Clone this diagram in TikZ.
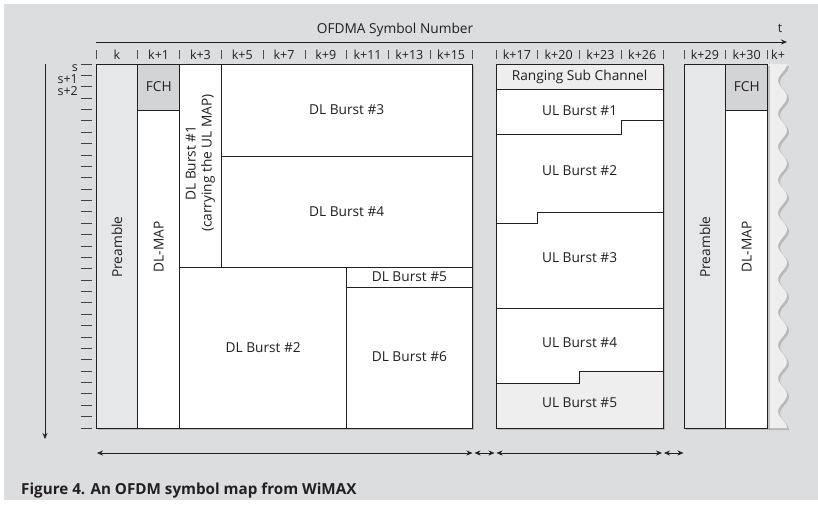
\documentclass[tikz,border=0pt]{standalone}
\usepackage{fontspec}
\setmainfont{Open Sans}
\usetikzlibrary{arrows.meta,shadows}
\definecolor{ink}{HTML}{231F20}
\definecolor{panel}{HTML}{DCDDDE}
\definecolor{prefill}{HTML}{E6E7E8}
\definecolor{fchfill}{HTML}{D3D4D5}
\definecolor{lightfill}{HTML}{EEEEEF}
\begin{document}
\begin{tikzpicture}[x=1pt, y=-1pt,
    every node/.style={font=\fontsize{13.7}{16}\selectfont, text=ink, inner sep=0pt},
    colnum/.style={font=\fontsize{12.5}{14}\selectfont},
    softshadow/.style={drop shadow={shadow xshift=2pt, shadow yshift=-2pt, opacity=0.3, fill=black!60}},
    blk/.style={draw=ink, line width=0.8pt},
    part/.style={ink, line width=0.8pt},
    colmark/.style={ink!80, line width=0.6pt},
    rowmark/.style={ink!85, line width=1pt},
    span/.style={ink, line width=0.6pt, {Stealth[length=6pt,width=5pt]}-{Stealth[length=6pt,width=5pt]}}]
    \useasboundingbox (0,0) rectangle (818,509);
    % 背景
    \fill[white] (0,0) rectangle (818,509);
    \fill[panel] (4,4) rectangle (818,500);

    % 时间轴
    \node (title) at (395,30) {OFDMA Symbol Number};
    \coordinate (tstart) at (96,42);
    \coordinate (tend) at (787,42);
    \draw[ink, line width=0.8pt, -{Stealth[length=6pt,width=5pt]}] (tstart) -- (tend);
    \node[colnum] (tlabel) at (780,28) {t};

    % 符号编号
    \foreach \t [count=\i] in {k,k+1,k+3,k+5,k+7,k+9,k+11,k+13,k+15}
        \node[colnum] (dlcol\i) at ({96+(\i-0.5)*41.78},55) {\t};
    \foreach \i in {0,...,9}
        \draw[colmark] ({96+\i*41.78},50) -- ++(0,9);
    \foreach \t [count=\i] in {k+17,k+20,k+23,k+26}
        \node[colnum] (ulcol\i) at ({496+(\i-0.5)*41.78},55) {\t};
    \foreach \i in {0,...,4}
        \draw[colmark] ({496+\i*41.78},50) -- ++(0,9);
    \foreach \t [count=\i] in {k+29,k+30}
        \node[colnum] (nxcol\i) at ({684+(\i-0.5)*41.78},55) {\t};
    \foreach \i in {0,...,2}
        \draw[colmark] ({684+\i*41.78},50) -- ++(0,9);
    \node[colnum, anchor=west] (nxcol3) at (771,55) {k+};

    % 子信道轴
    \coordinate (sstart) at (45,64);
    \coordinate (send) at (45,439);
    \draw[ink, line width=0.8pt, -{Stealth[length=6pt,width=5pt]}] (sstart) -- (send);
    \foreach \i in {0,...,32}
        \draw[rowmark] (81,{64+\i*11.375}) -- (92,{64+\i*11.375});
    \foreach \t [count=\i] in {s,s+1,s+2}
        \node[colnum, anchor=east] (row\i) at (78,{64+(\i-1)*11.375+4}) {\t};

    % 下行子帧
    \fill[white, softshadow] (96,64) rectangle (472,428);
    \filldraw[blk, fill=prefill] (96,64) rectangle (137.8,428);
    \filldraw[blk, fill=fchfill] (137.8,64) rectangle (179.6,110);
    \draw[part] (137.8,110) -- (137.8,428);
    \draw[part] (179.6,64) -- (179.6,428);
    \draw[part] (221.3,64) -- (221.3,267);
    \draw[part] (221.3,156) -- (472,156);
    \draw[part] (179.6,267) -- (472,267);
    \draw[part] (346.7,267) -- (346.7,428);
    \draw[part] (346.7,287) -- (472,287);
    \draw[blk] (96,64) rectangle (472,428);

    \node[rotate=90] (pre1) at (116.9,247) {Preamble};
    \node (fch1) at (158.7,87) {FCH};
    \node[rotate=90] (map1) at (158.7,247) {DL-MAP};
    \node[rotate=90, align=center] (dl1) at (200.4,163) {DL Burst \#1\\(carrying the UL MAP)};
    \node (dl3) at (346.7,110) {DL Burst \#3};
    \node (dl4) at (346.7,211.5) {DL Burst \#4};
    \node (dl5) at (409.4,277) {DL Burst \#5};
    \node (dl2) at (263.2,347.5) {DL Burst \#2};
    \node (dl6) at (409.4,356.5) {DL Burst \#6};

    % 上行子帧
    \fill[white, softshadow] (496,64) rectangle (663.1,428);
    \fill[lightfill] (496,64) rectangle (663.1,89);
    \fill[lightfill] (496,383) -- (579.6,383) -- (579.6,371) -- (663.1,371)
        -- (663.1,428) -- (496,428) -- cycle;
    \draw[part] (496,89) -- (663.1,89);
    \draw[part] (496,134) -- (621.3,134) -- (621.3,120) -- (663.1,120);
    \draw[part] (496,223) -- (537.8,223) -- (537.8,212) -- (663.1,212);
    \draw[part] (496,308.5) -- (663.1,308.5);
    \draw[part] (496,383) -- (579.6,383) -- (579.6,371) -- (663.1,371);
    \draw[blk] (496,64) rectangle (663.1,428);

    \node (rng) at (579.6,76.5) {Ranging Sub Channel};
    \node (ul1) at (579.6,111) {UL Burst \#1};
    \node (ul2) at (579.6,171) {UL Burst \#2};
    \node (ul3) at (579.6,258) {UL Burst \#3};
    \node (ul4) at (579.6,343) {UL Burst \#4};
    \node (ul5) at (579.6,403) {UL Burst \#5};

    % 下一帧
    \fill[lightfill, softshadow] (767,64)
        -- plot[domain=0:364, samples=133, variable=\t] ({782.5+4.5*cos(10.88*\t)},{64+\t})
        -- (767,428) -- cycle;
    \fill[white, softshadow] (684,64) rectangle (767.6,428);
    \filldraw[blk, fill=prefill] (684,64) rectangle (725.8,428);
    \filldraw[blk, fill=fchfill] (725.8,64) rectangle (767.6,110);
    \draw[blk] (725.8,110) rectangle (767.6,428);

    \node[rotate=90] (pre2) at (704.9,247) {Preamble};
    \node (fch2) at (746.7,87) {FCH};
    \node[rotate=90] (map2) at (746.7,247) {DL-MAP};

    % 跨度箭头
    \coordinate (a0) at (97,453);
    \coordinate (a1) at (472.5,453);
    \coordinate (a2) at (474.5,453);
    \coordinate (a3) at (494.5,453);
    \coordinate (a4) at (496.5,453);
    \coordinate (a5) at (662,453);
    \coordinate (a6) at (664,453);
    \coordinate (a7) at (683.5,453);
    \draw[span] (a0) -- (a1);
    \draw[span] (a2) -- (a3);
    \draw[span] (a4) -- (a5);
    \draw[span] (a6) -- (a7);

    % 图题
    \node[anchor=base west, font=\fontsize{15.2}{18}\selectfont\bfseries] (caption) at (21,494)
        {Figure 4. An OFDM symbol map from WiMAX};
\end{tikzpicture}
\end{document}
